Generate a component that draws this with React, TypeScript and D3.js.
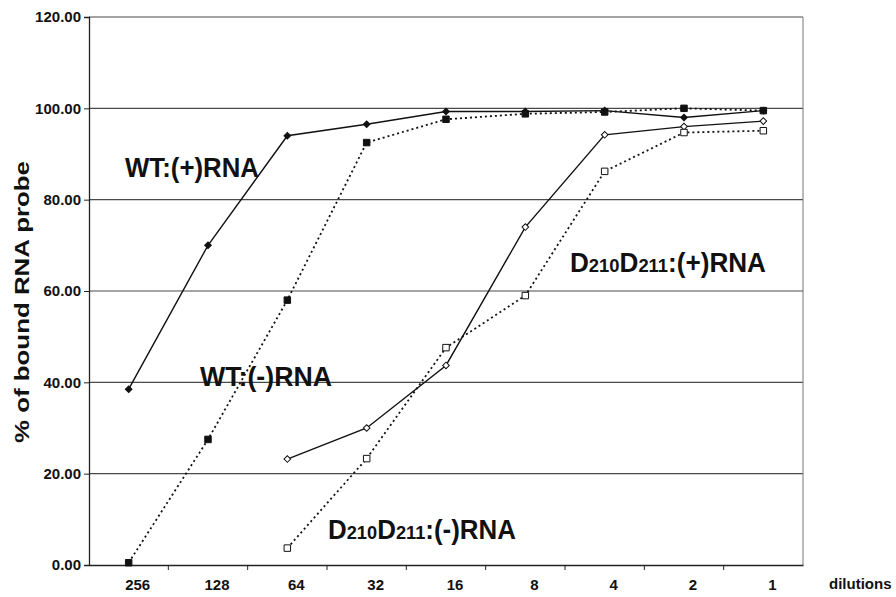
import * as d3 from "d3";
import { useEffect, useRef } from "react";

const width = 896;
const height = 597;
const margin = { left: 89, right: 93, top: 17, bottom: 32 };

const dilutions = ["256", "128", "64", "32", "16", "8", "4", "2", "1"];
const yTicks = [0, 20, 40, 60, 80, 100, 120];

// % of bound RNA probe, one value per dilution (null = not measured)
const wtPlus = [38.5, 70, 94, 96.5, 99.3, 99.3, 99.5, 98, 99.5];
const wtMinus = [0.5, 27.5, 58, 92.5, 97.6, 98.8, 99.2, 100, 99.5];
const mutPlus = [null, null, 23.2, 30, 43.7, 74, 94.2, 96, 97.2];
const mutMinus = [null, null, 3.7, 23.3, 47.6, 59, 86.2, 94.7, 95.1];

const FONT = "'Liberation Sans', Arial, sans-serif";

const App = () => {
  const svgRef = useRef(null);

  useEffect(() => {
    const svg = d3.select(svgRef.current);
    svg.selectAll("*").remove();

    const x = d3
      .scaleBand()
      .domain(dilutions)
      .range([margin.left, width - margin.right]);
    const y = d3
      .scaleLinear()
      .domain([0, 120])
      .range([height - margin.bottom, margin.top]);
    const cx = (d) => x(d) + x.bandwidth() / 2;

    // gridlines
    svg
      .append("g")
      .selectAll("line")
      .data(yTicks.filter((t) => t > 0))
      .join("line")
      .attr("x1", margin.left)
      .attr("x2", width - margin.right)
      .attr("y1", (d) => y(d))
      .attr("y2", (d) => y(d))
      .attr("stroke", "#4a4a4a")
      .attr("stroke-width", 1.2);

    // right border
    svg
      .append("line")
      .attr("x1", width - margin.right)
      .attr("x2", width - margin.right)
      .attr("y1", y(120))
      .attr("y2", y(0))
      .attr("stroke", "#777")
      .attr("stroke-width", 1);

    // y axis
    const yAxis = svg
      .append("g")
      .attr("transform", `translate(${margin.left},0)`)
      .call(
        d3
          .axisLeft(y)
          .tickValues(yTicks)
          .tickSize(5)
          .tickFormat((d) => d3.format(".2f")(d))
      );
    yAxis.select(".domain").attr("stroke", "#222").attr("stroke-width", 1.3);
    yAxis.selectAll(".tick line").attr("stroke", "#222");
    yAxis
      .selectAll(".tick text")
      .attr("font-family", FONT)
      .attr("font-weight", "bold")
      .attr("font-size", 15)
      .attr("fill", "#111")
      .attr("x", -8);

    // x axis
    const xAxis = svg
      .append("g")
      .attr("transform", `translate(0,${y(0)})`)
      .call(d3.axisBottom(x).tickSize(0).tickPadding(14));
    xAxis.select(".domain").attr("stroke", "#222").attr("stroke-width", 1.5);
    xAxis
      .selectAll(".tick text")
      .attr("font-family", FONT)
      .attr("font-weight", "bold")
      .attr("font-size", 15)
      .attr("fill", "#111")
      .attr("dx", 9);
    // tick marks between categories
    svg
      .append("g")
      .selectAll("line")
      .data(dilutions.slice(1))
      .join("line")
      .attr("x1", (d) => x(d))
      .attr("x2", (d) => x(d))
      .attr("y1", y(0))
      .attr("y2", y(0) + 5)
      .attr("stroke", "#222");

    svg
      .append("text")
      .attr("x", 829)
      .attr("y", 589)
      .attr("font-family", FONT)
      .attr("font-weight", "bold")
      .attr("font-size", 15)
      .attr("fill", "#111")
      .text("dilutions");

    svg
      .append("text")
      .attr("transform", "translate(29,302) rotate(-90)")
      .attr("text-anchor", "middle")
      .attr("font-family", FONT)
      .attr("font-weight", "bold")
      .attr("font-size", 21)
      .attr("fill", "#111")
      .attr("textLength", 282)
      .attr("lengthAdjust", "spacingAndGlyphs")
      .text("% of bound RNA probe");

    const series = [
      { values: wtPlus, dash: null, shape: "diamond", fill: "#111" },
      { values: wtMinus, dash: "2,3", shape: "square", fill: "#111" },
      { values: mutPlus, dash: null, shape: "diamond", fill: "#fff" },
      { values: mutMinus, dash: "2,3", shape: "square", fill: "#fff" },
    ];

    const line = d3
      .line()
      .defined((d) => d[1] != null)
      .x((d) => cx(d[0]))
      .y((d) => y(d[1]));

    series.forEach((s) => {
      const pts = dilutions.map((d, i) => [d, s.values[i]]);
      svg
        .append("path")
        .attr("d", line(pts))
        .attr("fill", "none")
        .attr("stroke", "#111")
        .attr("stroke-width", s.dash ? 1.8 : 1.4)
        .attr("stroke-dasharray", s.dash);

      const isSquare = s.shape === "square";
      const sym = d3
        .symbol()
        .type(d3.symbolSquare)
        .size(isSquare ? 42 : 22);

      svg
        .append("g")
        .selectAll("path")
        .data(pts.filter((d) => d[1] != null))
        .join("path")
        .attr("d", sym)
        .attr(
          "transform",
          (d) =>
            `translate(${cx(d[0])},${y(d[1])})` + (isSquare ? "" : " rotate(45)")
        )
        .attr("fill", s.fill)
        .attr("stroke", "#111")
        .attr("stroke-width", 1);
    });

    // annotations
    const label = (tx, ty, parts, len) => {
      const t = svg
        .append("text")
        .attr("x", tx)
        .attr("y", ty)
        .attr("font-family", FONT)
        .attr("font-weight", "bold")
        .attr("fill", "#111")
        .attr("textLength", len)
        .attr("lengthAdjust", "spacingAndGlyphs");
      parts.forEach(([str, size]) => {
        t.append("tspan").attr("font-size", size).text(str);
      });
    };

    label(125, 177, [["WT:(+)RNA", 27]], 134);
    label(200, 386, [["WT:(-)RNA", 27]], 132);
    label(
      570,
      272,
      [
        ["D", 27],
        ["210", 19],
        ["D", 27],
        ["211", 19],
        [":(+)RNA", 27],
      ],
      196
    );
    label(
      328,
      539,
      [
        ["D", 27],
        ["210", 19],
        ["D", 27],
        ["211", 19],
        [":(-)RNA", 27],
      ],
      188
    );
  }, []);

  return (
    <svg
      ref={svgRef}
      width={width}
      height={height}
      style={{ position: "absolute", left: 0, top: 0, background: "#fff" }}
    />
  );
};

export default App;
